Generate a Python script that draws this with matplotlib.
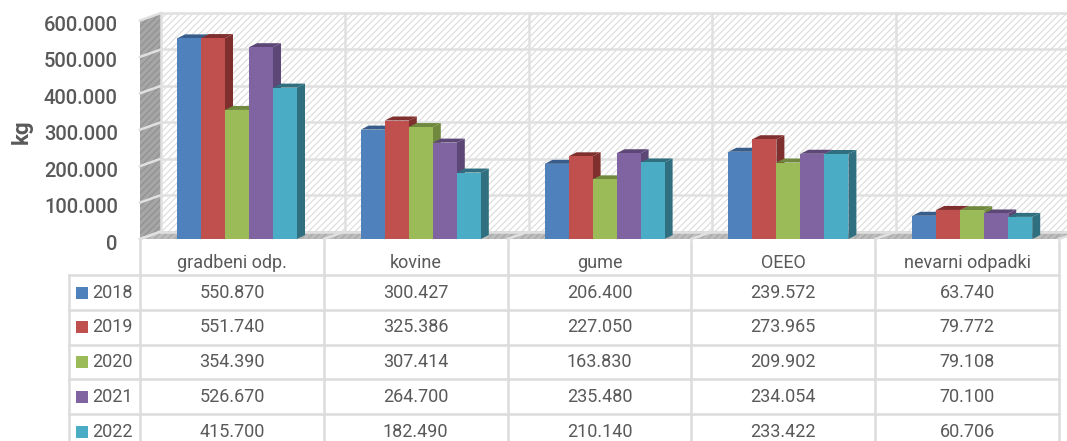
import matplotlib
matplotlib.use("Agg")
import matplotlib.pyplot as plt
from matplotlib.patches import Polygon, Rectangle
from matplotlib.transforms import ScaledTranslation

plt.rcParams['font.family'] = ['Roboto', 'DejaVu Sans']
plt.rcParams['hatch.linewidth'] = 0.9

W, H = 1067, 441

categories = ["gradbeni odp.", "kovine", "gume", "OEEO", "nevarni odpadki"]
years = ["2018", "2019", "2020", "2021", "2022"]
v2018 = [550870, 300427, 206400, 239572, 63740]
v2019 = [551740, 325386, 227050, 273965, 79772]
v2020 = [354390, 307414, 163830, 209902, 79108]
v2021 = [526670, 264700, 235480, 234054, 70100]
v2022 = [415700, 182490, 210140, 233422, 60706]
series = [v2018, v2019, v2020, v2021, v2022]

y_ticks = [0, 100000, 200000, 300000, 400000, 500000, 600000]
y_labels = ["0", "100.000", "200.000", "300.000", "400.000", "500.000", "600.000"]

front = ["#4f81bd", "#c0504d", "#9bbb59", "#8064a2", "#4bacc6"]
side = ["#385d8a", "#7f2f2d", "#71893f", "#5c4776", "#2f6f80"]
TEXT = "#595959"
GRID = "#e0e0e0"

fig = plt.figure(figsize=(W / 100, H / 100), dpi=100)

# front plane of the 3d box: 5 categories wide, 0-600k high
left, right, base, top = 140, 1059, 239, 20.5
ax = fig.add_axes([left / W, 1 - base / H, (right - left) / W, (base - top) / H])
ax.set_xlim(0, 5)
ax.set_ylim(0, 600000)
ax.patch.set_visible(False)
for s in ax.spines.values():
    s.set_visible(False)

px_x = 5 / (right - left)
px_y = 600000 / (base - top)
wall_dx, wall_dy = 21 * px_x, 7.5 * px_y
bar_dx, bar_dy = 8 * px_x, 4 * px_y
bar_w = 24 * px_x
bar_start = 37 * px_x


def poly(pts, **kw):
    p = Polygon(pts, closed=True, clip_on=False, **kw)
    ax.add_patch(p)
    return p


# back wall, side wall, floor
poly([(wall_dx, wall_dy), (5 + wall_dx, wall_dy), (5 + wall_dx, 600000 + wall_dy), (wall_dx, 600000 + wall_dy)],
     facecolor="white", edgecolor="#dedede", hatch="/////", linewidth=0)
poly([(0, 0), (wall_dx, wall_dy), (wall_dx, 600000 + wall_dy), (0, 600000)],
     facecolor="#a6a6a6", edgecolor="#919191", hatch="/////", linewidth=0)
poly([(0, 0), (5, 0), (5 + wall_dx, wall_dy), (wall_dx, wall_dy)],
     facecolor="#bdbdbd", edgecolor="#a8a8a8", hatch="/////", linewidth=0)

for t in y_ticks:
    ax.plot([wall_dx, 5 + wall_dx], [t + wall_dy] * 2, color=GRID, lw=1.8, clip_on=False)
    ax.plot([0, wall_dx], [t, t + wall_dy], color=GRID, lw=1.8, clip_on=False)
for c in range(6):
    ax.plot([c + wall_dx] * 2, [wall_dy, 600000 + wall_dy], color=GRID, lw=1.8, clip_on=False)
    ax.plot([c, c + wall_dx], [0, wall_dy], color=GRID, lw=1.8, clip_on=False)

# bars, left to right so later fronts cover earlier side faces
for i, vals in enumerate(series):
    xs = [c + bar_start + i * bar_w for c in range(len(categories))]
    for x, v in zip(xs, vals):
        poly([(x + bar_w, 0), (x + bar_w + bar_dx, bar_dy), (x + bar_w + bar_dx, v + bar_dy), (x + bar_w, v)],
             facecolor=side[i], edgecolor="none", zorder=3 + i)
        poly([(x, v), (x + bar_w, v), (x + bar_w + bar_dx, v + bar_dy), (x + bar_dx, v + bar_dy)],
             facecolor=side[i], edgecolor="none", zorder=3 + i)
    ax.bar(xs, vals, width=bar_w, align="edge", color=front[i], zorder=3 + i)

ax.set_xticks([])
ax.set_yticks(y_ticks)
ax.set_yticklabels(y_labels, fontsize=14.5, color=TEXT, fontweight="medium")
ax.tick_params(axis="y", length=0, pad=16)
# the labels sit a little below their gridlines
shift = ScaledTranslation(0, -3 / 100, fig.dpi_scale_trans)
for lab in ax.get_yticklabels():
    lab.set_transform(lab.get_transform() + shift)
fig.text(22 / W, 1 - 132 / H, "kg", rotation=90, ha="center", va="center",
         fontsize=16, fontweight="bold", color=TEXT)

# data table below the plot, in pixel coordinates
tb = fig.add_axes([0, 0, 1, 1])
tb.set_xlim(0, W)
tb.set_ylim(H, 0)
tb.axis("off")
tb.patch.set_visible(False)

col_x = [140 + k * (right - 140) / 5 for k in range(6)]
row_y = [275 + k * 34.8 for k in range(6)]
LINE = "#dcdcdc"
for x in col_x:
    tb.plot([x, x], [241, H], color=LINE, lw=1.8)
tb.plot([69, 69], [row_y[0], H], color=LINE, lw=1.8)
for y in row_y[:5]:
    tb.plot([69, right], [y, y], color=LINE, lw=1.8)

for c, name in enumerate(categories):
    cx = (col_x[c] + col_x[c + 1]) / 2
    tb.text(cx, 263, name, ha="center", va="center", fontsize=13, color=TEXT)

for i, year in enumerate(years):
    cy = row_y[i] + 17.5
    tb.add_patch(Rectangle((76, cy - 6), 12, 12, facecolor=front[i], edgecolor="none"))
    tb.text(92, cy, year, ha="left", va="center", fontsize=13, color=TEXT)
    for c, v in enumerate(series[i]):
        cx = (col_x[c] + col_x[c + 1]) / 2
        tb.text(cx, cy, f"{v:,}".replace(",", "."), ha="center", va="center", fontsize=13, color=TEXT)

fig.savefig("out.png", dpi=100)
